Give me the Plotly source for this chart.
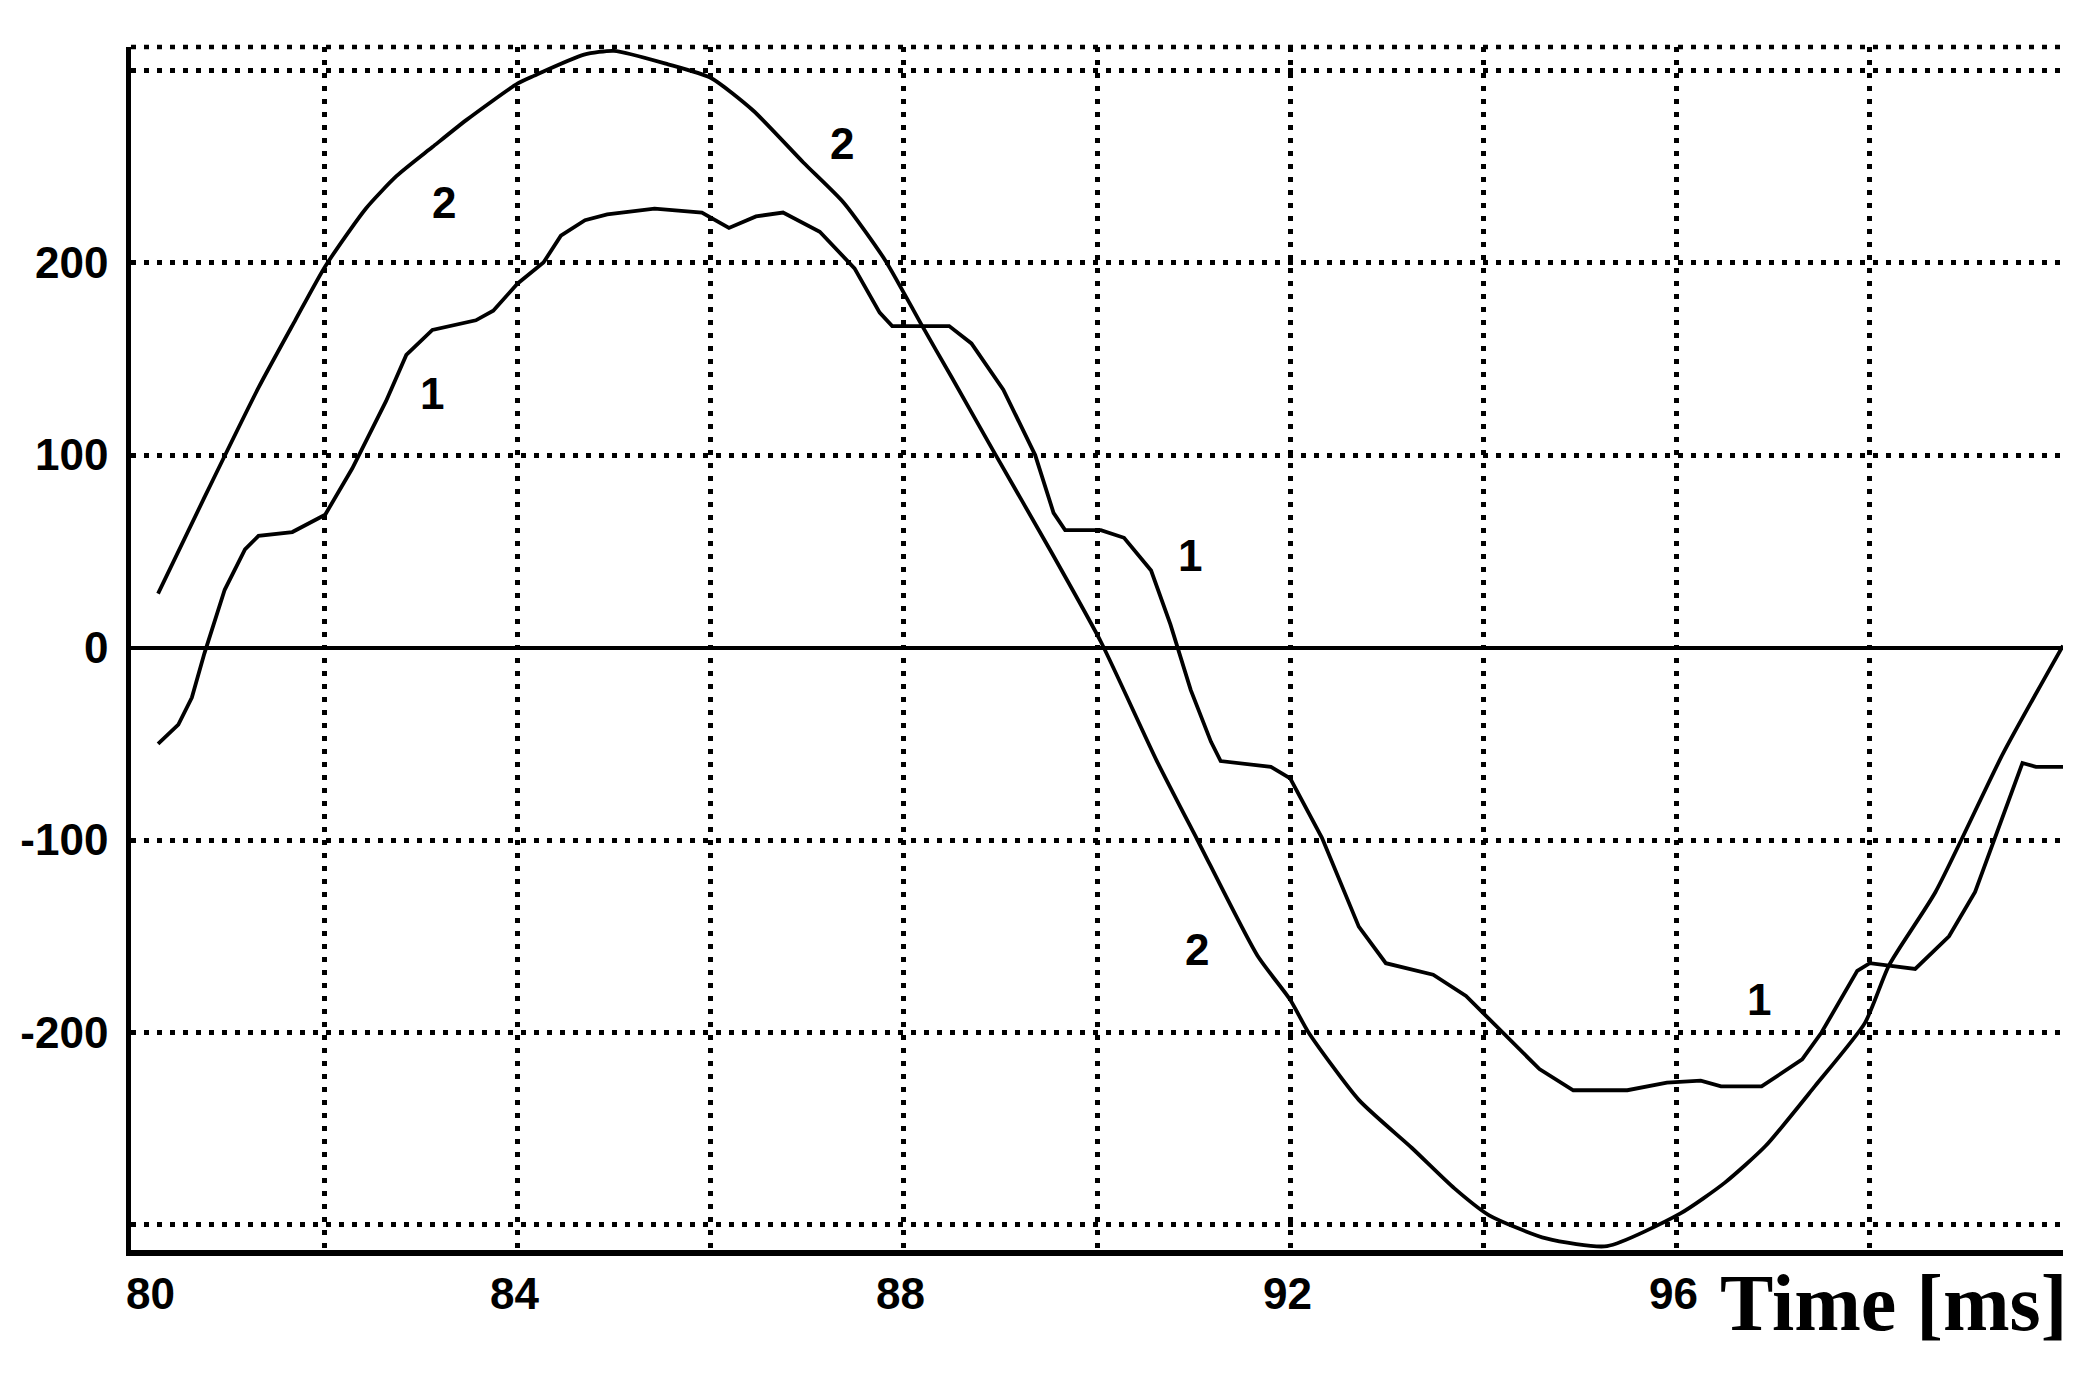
import plotly.graph_objects as go

# ---- data ----
t2 = [80.28, 80.76, 81.32, 81.70, 82.01, 82.43, 82.75, 83.12, 83.47, 84.00, 84.17,
      84.69, 85.00, 85.56, 86.00, 86.44, 86.96, 87.38, 87.81, 88.18, 88.50, 88.94,
      89.50, 90.04, 90.62, 91.04, 91.66, 92.00, 92.19, 92.71, 93.26, 93.70, 94.06,
      94.65, 95.28, 96.04, 96.50, 96.92, 97.43, 97.95, 98.20, 98.68, 99.38, 100.0]
v2 = [28, 78, 135, 170, 198, 228, 245, 260, 274, 293, 297,
      308, 310, 303, 296, 279, 252, 231, 201, 168, 140, 101,
      52, 3, -59, -100, -160, -183, -200, -235, -260, -281, -295,
      -307, -311, -294, -278, -259, -228, -195, -165, -127, -55, 1]

t1 = [80.28, 80.49, 80.63, 80.76, 80.97, 81.18, 81.32, 81.67, 82.01, 82.29, 82.64,
      82.85, 83.12, 83.57, 83.75, 84.00, 84.27, 84.45, 84.70, 84.93, 85.42, 85.91,
      86.19, 86.47, 86.75, 87.13, 87.49, 87.75, 87.88, 88.47, 88.70, 89.03, 89.36,
      89.55, 89.67, 90.04, 90.28, 90.56, 90.76, 90.97, 91.18, 91.28, 91.80, 92.00,
      92.33, 92.71, 92.99, 93.48, 93.82, 94.00, 94.25, 94.58, 94.93, 95.49, 95.90,
      96.25, 96.46, 96.88, 97.30, 97.50, 97.87, 98.00, 98.47, 98.82, 99.09, 99.44,
      99.58, 99.72, 100.0]
v1 = [-50, -40, -26, -3, 30, 51, 58, 60, 69, 93, 128,
      152, 165, 170, 175, 189, 200, 214, 222, 225, 228, 226,
      218, 224, 226, 216, 197, 174, 167, 167, 158, 134, 100,
      70, 61, 61, 57, 40, 12, -22, -49, -59, -62, -68,
      -99, -145, -164, -170, -181, -190, -202, -219, -230, -230, -226,
      -225, -228, -228, -214, -200, -168, -164, -167, -150, -127, -80,
      -60, -62, -62]

x_ticks = [80, 84, 88, 92, 96]
x_grid = [80, 82, 84, 86, 88, 90, 92, 94, 96, 98, 100]
y_grid = [-300, -200, -100, 0, 100, 200, 300]
y_text = ["", "-200", "-100", "0", "100", "200", ""]

curve_labels = [("2", 83.24, 231), ("1", 83.12, 132), ("2", 87.36, 262),
                ("1", 90.96, 48), ("2", 91.04, -157), ("1", 96.85, -183)]

x_title = "Time [ms]"

# ---- figure ----
INK = "black"
tick_font = dict(family="Liberation Sans, Arial", size=44, color=INK)
grid_dash = "5px,8px"

fig = go.Figure()
fig.add_trace(go.Scatter(x=t2, y=v2, mode="lines", line=dict(color=INK, width=3.8, shape="spline", smoothing=0.6),
                         showlegend=False, hoverinfo="skip"))
fig.add_trace(go.Scatter(x=t1, y=v1, mode="lines", line=dict(color=INK, width=3.8),
                         showlegend=False, hoverinfo="skip"))

for txt, xx, yy in curve_labels:
    fig.add_annotation(x=xx, y=yy, xref="x", yref="y", text="<b>%s</b>" % txt,
                       showarrow=False, font=tick_font)

for i, xv in enumerate(x_ticks):
    fig.add_annotation(x=xv, y=0, xref="x", yref="paper", text="<b>%d</b>" % xv,
                       showarrow=False, font=tick_font, yanchor="top", yshift=-17,
                       xshift=(19 if i == 0 else -3))

fig.add_annotation(x=1.0, y=0, xref="paper", yref="paper", text="<b>%s</b>" % x_title,
                   showarrow=False, xanchor="right", yanchor="top", yshift=-7, xshift=6,
                   font=dict(family="Liberation Serif, Times New Roman, serif", size=80, color=INK))

# dotted top border
fig.add_shape(type="line", xref="paper", yref="paper", x0=0, x1=1, y0=1, y1=1,
              line=dict(color=INK, width=4.5, dash=grid_dash))

fig.update_layout(
    width=2076, height=1365,
    margin=dict(l=119, r=21, t=39, b=123),
    paper_bgcolor="white", plot_bgcolor="white",
    xaxis=dict(range=[80, 100], tickvals=x_grid, showticklabels=False, ticks="",
               showgrid=True, gridcolor=INK, gridwidth=4.5, griddash=grid_dash,
               showline=True, linecolor=INK, linewidth=6, zeroline=False),
    yaxis=dict(range=[-313, 312], tickvals=y_grid, ticktext=["<b>%s</b>" % s if s else "" for s in y_text],
               ticks="", tickfont=tick_font, ticklabelstandoff=9,
               showgrid=True, gridcolor=INK, gridwidth=4.5, griddash=grid_dash,
               showline=True, linecolor=INK, linewidth=4.5,
               zeroline=True, zerolinecolor=INK, zerolinewidth=3.8),
)

fig.write_html("out.html")
